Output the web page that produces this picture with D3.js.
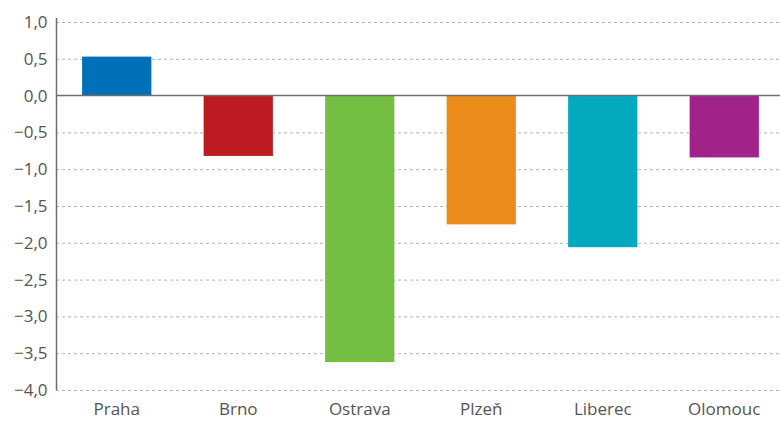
<!DOCTYPE html>
<html><head><meta charset="utf-8">
<script src="https://cdn.jsdelivr.net/npm/d3@7"></script>
<style>body{margin:0;background:#fff}svg{display:block}text{font-family:"Open Sans","Noto Sans",sans-serif}</style>
</head><body><svg id="c" width="780" height="421"></svg>
<script>
const categories = ["Praha","Brno","Ostrava","Plzeň","Liberec","Olomouc"];
const values = [0.53,-0.82,-3.62,-1.75,-2.06,-0.84];
const colors = ["#0070B8","#BC1B22","#74BE44","#EC8C1C","#03A9BE","#A1238A"];
const yTicks = [1.0,0.5,0.0,-0.5,-1.0,-1.5,-2.0,-2.5,-3.0,-3.5,-4.0];

(function(){
const svg = d3.select("#c");
const mL = 56, mR = 785, mT = 22, mB = 390;
const x = d3.scaleBand().domain(categories).range([mL,mR]).paddingInner(0.43).paddingOuter(0.215);
const y = d3.scaleLinear().domain([-4,1]).range([mB,mT]);
const fmt = v => (v<0?"\u2212":"") + Math.abs(v).toFixed(1).replace(".",",");

svg.append("g").selectAll("line").data(yTicks.filter(t=>t!==0)).join("line")
  .attr("x1",mL).attr("x2",780).attr("y1",d=>y(d)+0.5).attr("y2",d=>y(d)+0.5)
  .attr("stroke","#b3b3b3").attr("stroke-width",1).attr("stroke-dasharray","3,3");

svg.append("g").selectAll("rect").data(values).join("rect")
  .attr("x",(d,i)=>x(categories[i])).attr("width",x.bandwidth())
  .attr("y",d=>y(Math.max(0,d))).attr("height",d=>Math.abs(y(d)-y(0)))
  .attr("fill",(d,i)=>colors[i]);

svg.append("line").attr("x1",mL).attr("x2",780).attr("y1",y(0)).attr("y2",y(0))
  .attr("stroke","#6d6d6d").attr("stroke-width",1.5);

const ya = d3.axisLeft(y).tickValues(yTicks).tickFormat(fmt).tickSize(0).tickPadding(9);
const gy = svg.append("g").attr("transform",`translate(${mL+0.5},0)`).call(ya);
gy.select(".domain").attr("stroke","#6d6d6d").attr("stroke-width",1.5).attr("d",`M0,${mT-4}V${mB}`);
gy.selectAll("text").attr("fill","#555").attr("font-size",17);

const xa = d3.axisBottom(x).tickSize(0).tickPadding(13);
const gx = svg.append("g").attr("transform",`translate(0,${mB})`).call(xa);
gx.select(".domain").remove();
gx.selectAll("text").attr("fill","#555").attr("font-size",17);
})();
</script></body></html>
